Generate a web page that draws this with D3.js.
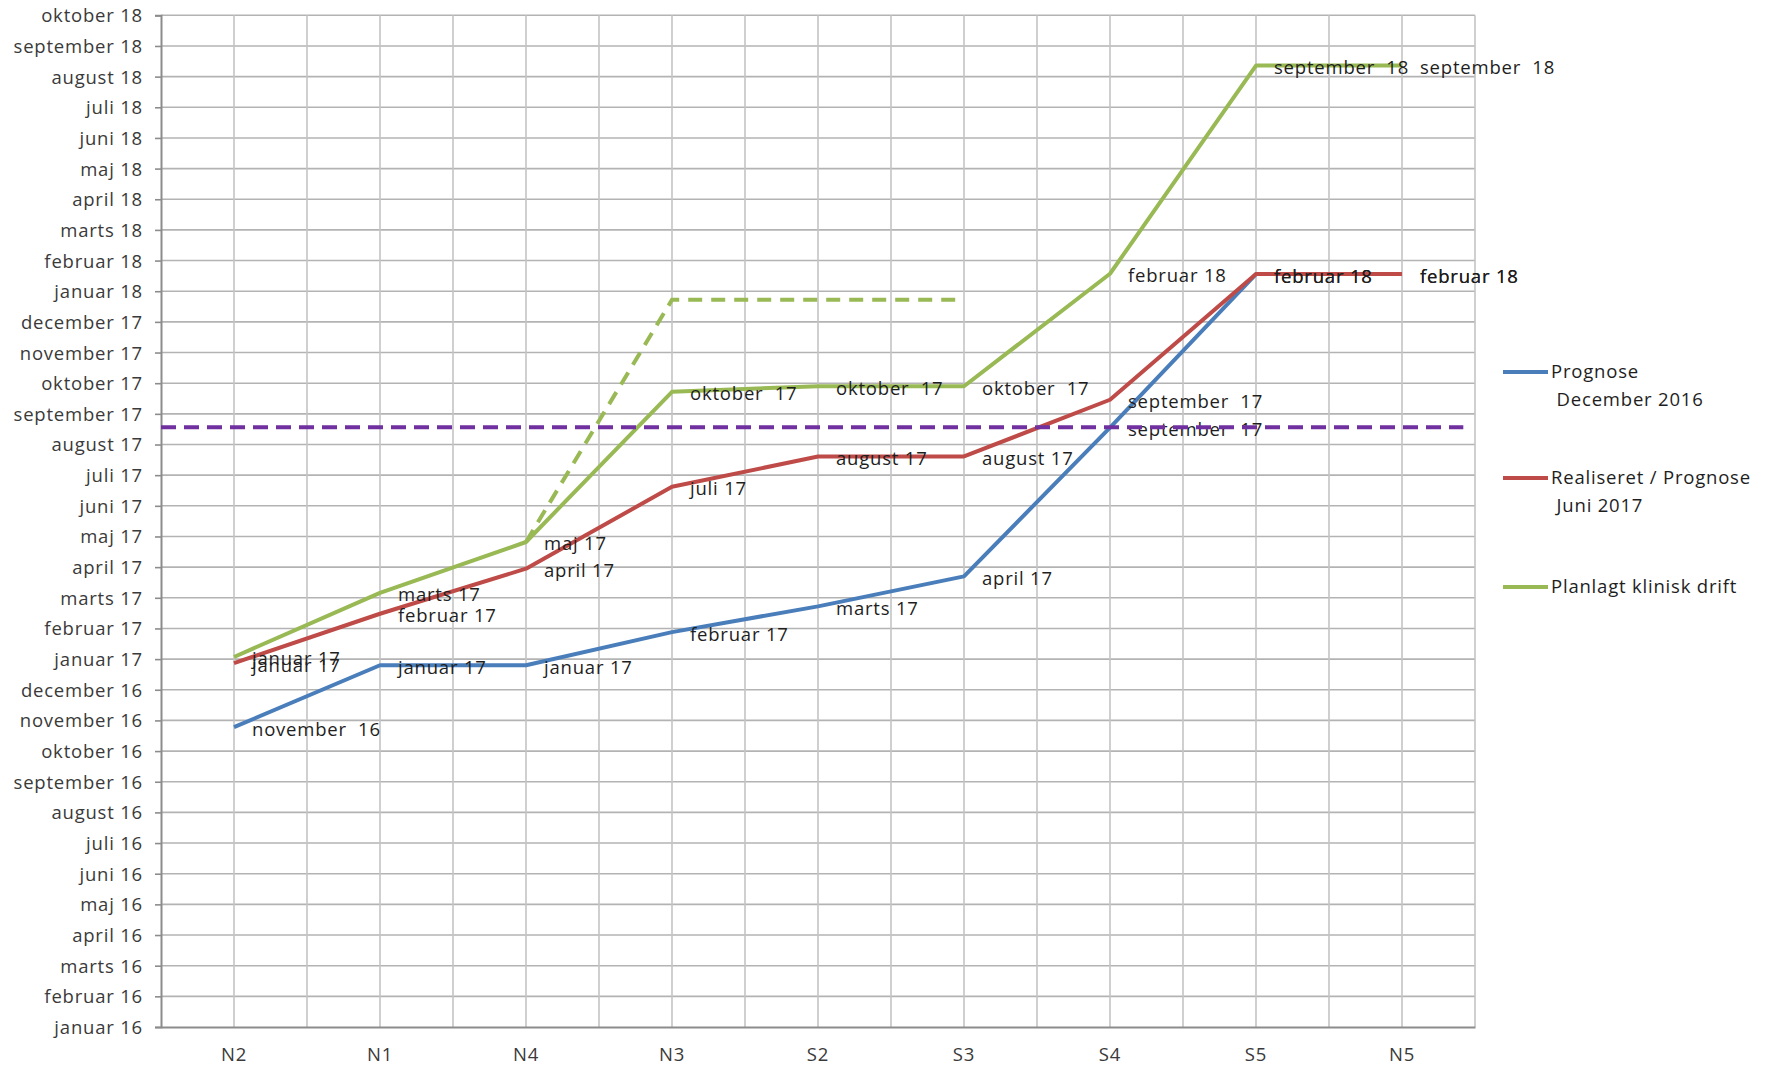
<!DOCTYPE html>
<html>
<head>
<meta charset="utf-8">
<script src="https://cdn.jsdelivr.net/npm/d3@7"></script>
<style>
  html, body { margin: 0; padding: 0; background: #fff; }
  svg { display: block; }
  text { font-family: "Open Sans", "Liberation Sans", sans-serif; white-space: pre; letter-spacing: 0.8px; }
</style>
</head>
<body>
<svg id="chart" width="1765" height="1069"></svg>
<script>
// ---------- data ----------
const categories = ["N2", "N1", "N4", "N3", "S2", "S3", "S4", "S5", "N5"];

const monthTicks = [
  "januar 16", "februar 16", "marts 16", "april 16", "maj 16", "juni 16", "juli 16", "august 16",
  "september 16", "oktober 16", "november 16", "december 16",
  "januar 17", "februar 17", "marts 17", "april 17", "maj 17", "juni 17", "juli 17", "august 17",
  "september 17", "oktober 17", "november 17", "december 17",
  "januar 18", "februar 18", "marts 18", "april 18", "maj 18", "juni 18", "juli 18", "august 18",
  "september 18", "oktober 18"
];

// values in months since januar 16
const prognoseDec2016 = [9.78, 11.8, 11.8, 12.88, 13.72, 14.7, 19.55, 24.56, 24.56];
const prognoseDec2016Labels = ["november  16", "januar 17", "januar 17", "februar 17", "marts 17", "april 17", "september  17", "februar 18", "februar 18"];

const realiseretJuni2017 = [11.87, 13.48, 14.95, 17.62, 18.61, 18.61, 20.46, 24.56, 24.56];
const realiseretJuni2017Labels = ["januar 17", "februar 17", "april 17", "juli 17", "august 17", "august 17", "september  17", "februar 18", "februar 18"];

const planlagtKliniskDrift = [12.07, 14.16, 15.82, 20.72, 20.9, 20.9, 24.57, 31.36, 31.36];
const planlagtKliniskDriftLabels = ["januar 17", "marts 17", "maj 17", "oktober  17", "oktober  17", "oktober  17", "februar 18", "september  18", "september  18"];

const planlagtTidligere = [null, null, 15.82, 23.72, 23.72, 23.72, null, null, null];

const deadlineValue = 19.56;
const deadlineSpan = [-0.5, 8.42]; // in category-index units

const seriesNames = [["Prognose", " December 2016"], ["Realiseret / Prognose", " Juni 2017"], ["Planlagt klinisk drift"]];
const colors = ["#4a7ebb", "#be4b48", "#98b954"];
const dashedGreen = "#98b954";
const purple = "#7030a0";

// ---------- layout ----------
const svg = d3.select("#chart");
const plotLeft = 161, plotRight = 1475, plotTop = 15.3, plotBottom = 1027;
const fs = 18.5;

const x = d3.scaleBand().domain(categories).range([plotLeft, plotRight]).paddingInner(0).paddingOuter(0);
const bw = x.bandwidth();
const cx = c => x(c) + bw / 2;
const xi = d3.scaleLinear().domain([-0.5, categories.length - 0.5]).range([plotLeft, plotRight]);
const y = d3.scaleLinear().domain([0, monthTicks.length - 1]).range([plotBottom, plotTop]);

// horizontal gridlines
svg.append("g").selectAll("line").data(d3.range(1, monthTicks.length)).join("line")
  .attr("x1", plotLeft).attr("x2", plotRight)
  .attr("y1", d => y(d)).attr("y2", d => y(d))
  .attr("stroke", "#b3b3b3").attr("stroke-width", 1.6);

// vertical gridlines (band boundaries and centers)
const vlines = d3.range(1, categories.length * 2 + 1).map(k => xi(-0.5 + k / 2));
svg.append("g").selectAll("line").data(vlines).join("line")
  .attr("x1", d => d).attr("x2", d => d)
  .attr("y1", plotTop).attr("y2", plotBottom)
  .attr("stroke", "#c4c4c4").attr("stroke-width", 1.6);

// y axis
const yAxis = d3.axisLeft(y)
  .tickValues(d3.range(0, monthTicks.length))
  .tickFormat(i => monthTicks[i])
  .tickSize(6).tickPadding(12);
const gy = svg.append("g").attr("transform", `translate(${plotLeft},0)`).call(yAxis);
gy.select(".domain").attr("stroke", "#8c8c8c").attr("stroke-width", 2);
gy.selectAll(".tick line").attr("stroke", "#8c8c8c").attr("stroke-width", 1.6);
gy.selectAll(".tick text").attr("font-size", fs).attr("fill", "#3a3a3a")
  .attr("font-family", "'Open Sans', sans-serif").attr("dy", "0.35em");

// x axis
const xAxis = d3.axisBottom(x).tickSize(0).tickPadding(21);
const gx = svg.append("g").attr("transform", `translate(0,${plotBottom})`).call(xAxis);
gx.select(".domain").attr("stroke", "#8c8c8c").attr("stroke-width", 2);
gx.selectAll(".tick text").attr("font-size", fs).attr("fill", "#3a3a3a")
  .attr("font-family", "'Open Sans', sans-serif");

// lines
const line = d3.line()
  .defined(d => d.v != null)
  .x(d => cx(d.c)).y(d => y(d.v));

const toPts = arr => arr.map((v, i) => ({ c: categories[i], v }));

const allSeries = [prognoseDec2016, realiseretJuni2017, planlagtKliniskDrift];
const allLabels = [prognoseDec2016Labels, realiseretJuni2017Labels, planlagtKliniskDriftLabels];

// dashed green (earlier plan)
svg.append("path").datum(toPts(planlagtTidligere))
  .attr("d", line).attr("fill", "none")
  .attr("stroke", dashedGreen).attr("stroke-width", 4)
  .attr("stroke-dasharray", "14,9");

allSeries.forEach((s, i) => {
  svg.append("path").datum(toPts(s))
    .attr("d", line).attr("fill", "none")
    .attr("stroke", colors[i]).attr("stroke-width", 4)
    .attr("stroke-linejoin", "round");
});

// data labels
allSeries.forEach((s, i) => {
  svg.append("g").selectAll("text").data(toPts(s)).join("text")
    .attr("x", d => cx(d.c) + 18)
    .attr("y", d => y(d.v) + 2)
    .attr("dy", "0.35em")
    .attr("font-size", fs)
    .attr("fill", "#1e1e1e")
    .text((d, j) => allLabels[i][j]);
});

// purple deadline line
svg.append("line")
  .attr("x1", xi(deadlineSpan[0])).attr("x2", xi(deadlineSpan[1]))
  .attr("y1", y(deadlineValue)).attr("y2", y(deadlineValue))
  .attr("stroke", purple).attr("stroke-width", 4)
  .attr("stroke-dasharray", "15,8");

// legend
const legendY = [372, 478, 587];
const lg = svg.append("g");
seriesNames.forEach((names, i) => {
  lg.append("line").attr("x1", 1503).attr("x2", 1548)
    .attr("y1", legendY[i]).attr("y2", legendY[i])
    .attr("stroke", colors[i]).attr("stroke-width", 4);
  names.forEach((n, k) => {
    lg.append("text").attr("x", 1551).attr("y", legendY[i] + k * 27.5)
      .attr("dy", "0.35em").attr("font-size", fs).attr("fill", "#1e1e1e")
      .text(n);
  });
});
</script>
</body>
</html>
